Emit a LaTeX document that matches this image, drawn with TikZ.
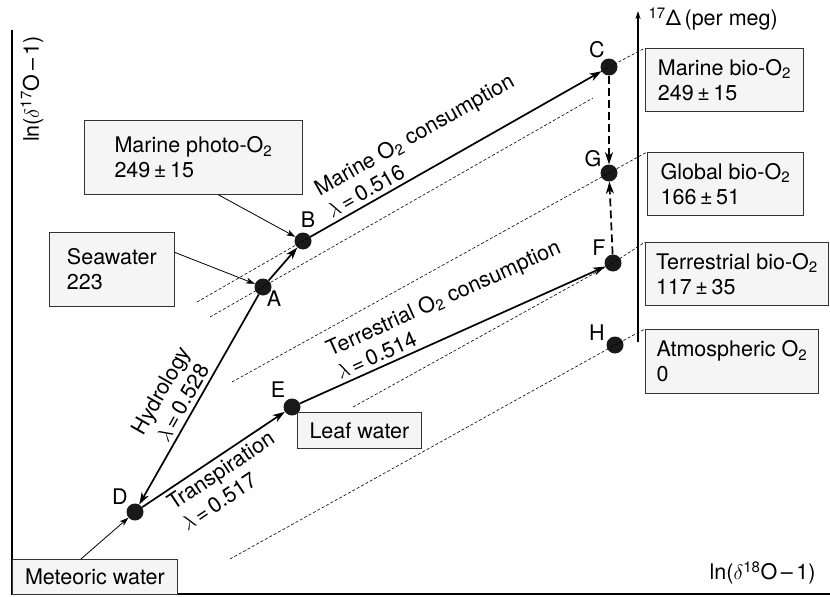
\documentclass[tikz,border=0pt]{standalone}
\usepackage{fontspec}
\setmainfont{TeX Gyre Heros}
\usetikzlibrary{arrows.meta}

\begin{document}
\begin{tikzpicture}[x=1pt,y=-1pt,
  font=\fontsize{21.5}{25}\selectfont,
  pt/.style={circle,fill=black!90,inner sep=0pt,minimum size=17pt},
  lbl/.style={inner sep=0pt},
  box/.style={draw=black!80,fill=black!4,line width=0.8pt,align=left,anchor=north west,inner sep=0pt},
  flow/.style={line width=1.7pt,-{Stealth[length=12pt,width=8pt,inset=3.5pt]}},
  link/.style={line width=0.8pt,-{Stealth[length=9pt,width=6pt,inset=2.5pt]}},
  merge/.style={flow,dash pattern=on 8pt off 4pt},
  guide/.style={line width=0.6pt,dash pattern=on 3pt off 2pt},
  axis/.style={line width=1.8pt},
  tag/.style={inner sep=4pt,sloped}]
  \useasboundingbox (0,0) rectangle (830,597);

  % axes
  \coordinate (top) at (12,30);
  \coordinate (orig) at (12,594);
  \coordinate (right) at (830,594);
  \draw[axis] (top) -- (orig) -- (right);
  \node[rotate=90] (ylab) at (32,89) {ln($\delta$\textsuperscript{17}O\,–\,1)};
  \node[anchor=east] (xlab) at (819,573) {ln($\delta$\textsuperscript{18}O\,–\,1)};
  \coordinate (dlo) at (638,342);
  \coordinate (dhi) at (638,11);
  \draw[axis,-{Stealth[length=8pt,width=5pt]}] (dlo) -- (dhi);
  \node[anchor=west] (dlab) at (645,19) {\textsuperscript{17}Δ\,(per meg)};

  % points
  \node[pt] (A) at (263,287) {};
  \node[pt] (B) at (303,241) {};
  \node[pt] (C) at (609,67) {};
  \node[pt] (G) at (609,173) {};
  \node[pt] (F) at (613,263) {};
  \node[pt] (H) at (615,345) {};
  \node[pt] (D) at (135,512) {};
  \node[pt] (E) at (292,407) {};
  \node[lbl] (labA) at ([shift={(11,12)}]A) {A};
  \node[lbl] (labB) at ([shift={(5,-21)}]B) {B};
  \node[lbl] (labC) at ([shift={(-12,-17)}]C) {C};
  \node[lbl] (labG) at ([shift={(-16,-14)}]G) {G};
  \node[lbl] (labF) at ([shift={(-14,-15)}]F) {F};
  \node[lbl] (labH) at ([shift={(-18,-12)}]H) {H};
  \node[lbl] (labD) at ([shift={(-15,-15)}]D) {D};
  \node[lbl] (labE) at ([shift={(-14,-17)}]E) {E};

  % boxes
  \node[box,minimum width=218,minimum height=74] (mphoto) at (84,120) {Marine photo-O\textsubscript{2}\\249\,±\,15};
  \node[box,minimum width=125,minimum height=74] (sea) at (49,232) {Seawater\\223};
  \node[box,minimum width=165,minimum height=35] (meteo) at (12,559) {Meteoric water};
  \node[box,minimum width=124,minimum height=36] (leaf) at (297,412) {Leaf water};
  \node[box,minimum width=158,minimum height=63] (mbio) at (645,48) {Marine bio-O\textsubscript{2}\\249\,±\,15};
  \node[box,minimum width=156,minimum height=63] (gbio) at (647,152) {Global bio-O\textsubscript{2}\\166\,±\,51};
  \node[box,minimum width=183,minimum height=63] (tbio) at (645,242) {Terrestrial bio-O\textsubscript{2}\\117\,±\,35};
  \node[box,minimum width=173,minimum height=64] (atm) at (645,329) {Atmospheric O\textsubscript{2}\\0};

  % reference lines
  \coordinate (g1) at (197,302);
  \coordinate (g2a) at (210,317);
  \coordinate (g2b) at (593,98);
  \coordinate (g3) at (232,382);
  \coordinate (g4) at (353,407);
  \coordinate (g5) at (230,559);
  \draw[guide] (g1) -- (B.center) -- (C.center) -- (mbio.north west);
  \draw[guide] (g2a) -- (g2b);
  \draw[guide] (g3) -- (G.center) -- (gbio.north west);
  \draw[guide] (g4) -- (F.center) -- (tbio.north west);
  \draw[guide] (g5) -- (H.center) -- (atm.north west);

  % fluxes
  \draw[flow] (A) -- (B);
  \draw[flow] (A) -- node[tag,above,pos=0.545,align=center] (hyd) {Hydrology\\$\lambda$\,=\,0.528} (D);
  \draw[flow] (D) -- node[tag,below,pos=0.5,align=left] (trans) {Transpiration\\$\lambda$\,=\,0.517} (E);
  \draw[flow] (B) -- node[tag,above,pos=0.42,align=left] (mcons) {Marine O\textsubscript{2} consumption\\$\lambda$\,=\,0.516} (C);
  \draw[flow] (E) -- node[tag,above,pos=0.52,align=left] (tcons) {Terrestrial O\textsubscript{2} consumption\\$\lambda$\,=\,0.514} (F);
  \draw[merge] (C) -- (G);
  \draw[merge] (F) -- (G);
  \draw[link] ([xshift=25pt]mphoto.south) -- (B);
  \draw[link] ([yshift=17pt]sea.east) -- (A);
  \draw[link] ([xshift=-14pt]meteo.north) -- (D);
\end{tikzpicture}
\end{document}
